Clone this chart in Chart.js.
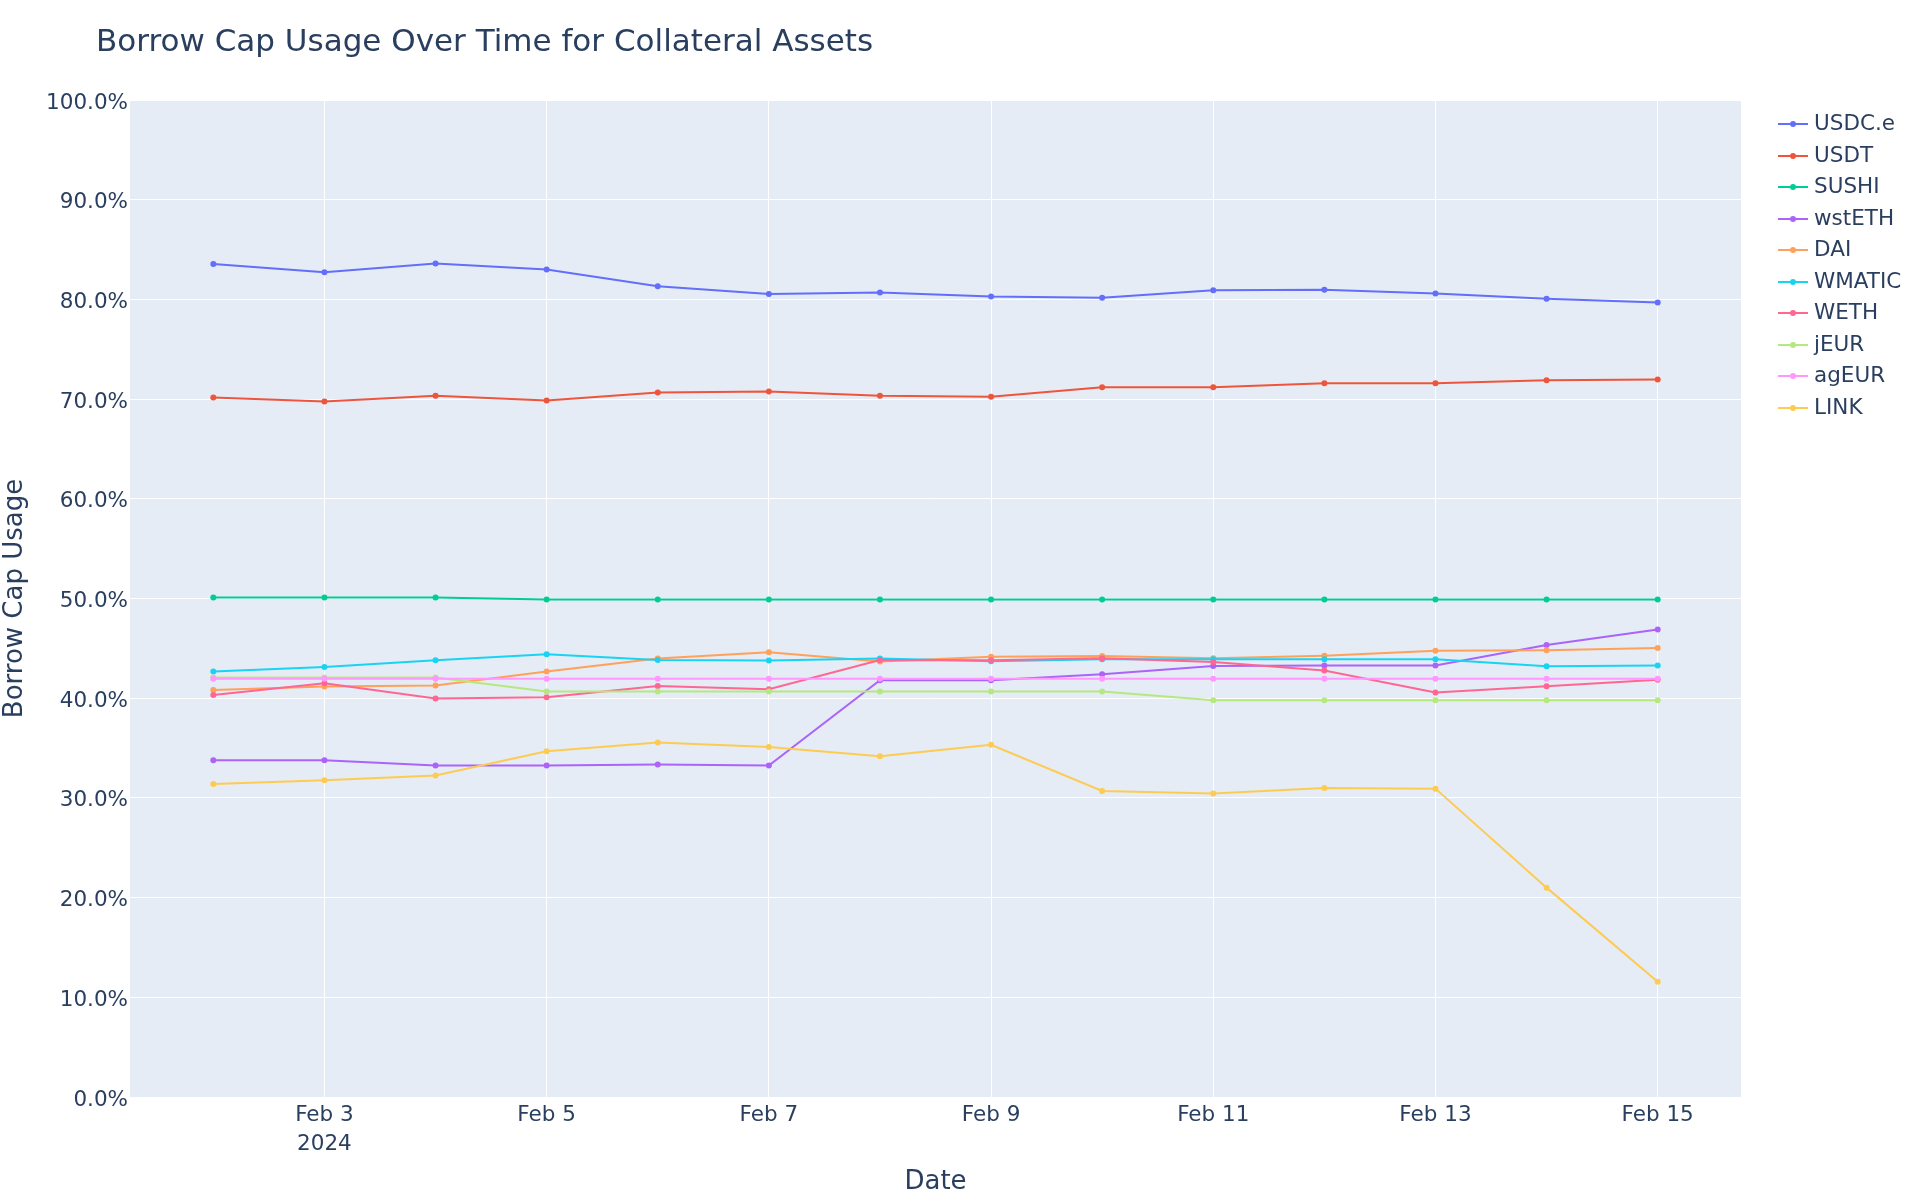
<!DOCTYPE html>
<html>
<head>
<meta charset="utf-8">
<script src="https://cdn.jsdelivr.net/npm/chart.js@4.4.1/dist/chart.umd.min.js"></script>
<style>
  body { margin: 0; background: #fff; font-family: "DejaVu Sans", sans-serif; }
  #wrap { position: relative; width: 1920px; height: 1200px; }
  #title { position: absolute; left: 96px; top: 25px; font-size: 31px; line-height: 30px; color: #2a3f5f; white-space: nowrap; }
  #legend { position: absolute; left: 1778px; top: 108px; }
  .item { position: relative; height: 31.5px; font-size: 21.5px; color: #2a3f5f; }
  .item .ln { position: absolute; left: 0; top: 15px; width: 30px; height: 2px; }
  .item .dot { position: absolute; left: 12px; top: 13px; width: 6px; height: 6px; border-radius: 50%; }
  .item .tx { position: absolute; left: 36px; top: 2px; line-height: 26px; white-space: nowrap; }
</style>
</head>
<body>
<div id="wrap">
  <canvas id="chart" width="1920" height="1200"></canvas>
  <div id="title">Borrow Cap Usage Over Time for Collateral Assets</div>
  <div id="legend"></div>
</div>

<script>
// dates of the snapshots
const dates = ['2024-02-02', '2024-02-03', '2024-02-04', '2024-02-05', '2024-02-06', '2024-02-07', '2024-02-08',
               '2024-02-09', '2024-02-10', '2024-02-11', '2024-02-12', '2024-02-13', '2024-02-14', '2024-02-15'];

// borrow cap usage in percent, per asset
const usdce  = [83.56, 82.73, 83.60, 83.00, 81.33, 80.53, 80.70, 80.28, 80.17, 80.93, 80.97, 80.60, 80.07, 79.70];
const usdt   = [70.17, 69.77, 70.33, 69.86, 70.66, 70.76, 70.33, 70.23, 71.20, 71.20, 71.60, 71.60, 71.90, 71.96];
const sushi  = [50.10, 50.10, 50.10, 49.90, 49.90, 49.90, 49.90, 49.90, 49.90, 49.90, 49.90, 49.90, 49.90, 49.90];
const wsteth = [33.78, 33.78, 33.24, 33.24, 33.34, 33.24, 41.80, 41.80, 42.40, 43.24, 43.27, 43.27, 45.34, 46.90];
const dai    = [40.83, 41.17, 41.27, 42.67, 43.97, 44.60, 43.67, 44.15, 44.24, 44.00, 44.27, 44.77, 44.80, 45.04];
const wmatic = [42.67, 43.14, 43.80, 44.40, 43.84, 43.77, 43.97, 43.70, 43.90, 43.90, 43.90, 43.90, 43.20, 43.27];
const weth   = [40.33, 41.50, 39.96, 40.10, 41.23, 40.90, 43.84, 43.80, 44.00, 43.64, 42.77, 40.57, 41.20, 41.84];
const jeur   = [42.07, 42.07, 42.07, 40.67, 40.67, 40.67, 40.67, 40.67, 40.67, 39.80, 39.80, 39.80, 39.80, 39.80];
const ageur  = [41.94, 41.94, 41.94, 41.94, 41.94, 41.94, 41.94, 41.94, 41.94, 41.94, 41.94, 41.94, 41.94, 41.94];
const link   = [31.40, 31.78, 32.24, 34.68, 35.55, 35.10, 34.17, 35.33, 30.70, 30.43, 31.00, 30.93, 21.00, 11.56];

const assetNames = ['USDC.e', 'USDT', 'SUSHI', 'wstETH', 'DAI', 'WMATIC', 'WETH', 'jEUR', 'agEUR', 'LINK'];
const assetValues = [usdce, usdt, sushi, wsteth, dai, wmatic, weth, jeur, ageur, link];
const colors = ['#636efa', '#EF553B', '#00cc96', '#ab63fa', '#FFA15A', '#19d3f3', '#FF6692', '#B6E880', '#FF97FF', '#FECB52'];

// x ticks (day of February) shown on the axis
const xTicks = [3, 5, 7, 9, 11, 13, 15];

const font = '"DejaVu Sans", sans-serif';
const textColor = '#2a3f5f';

const dayOf = d => Number(d.slice(8, 10));

// plot background like plotly
const plotBg = {
    id: 'plotBg',
    beforeDraw(chart) {
        const { ctx, chartArea: { left, top, width, height } } = chart;
        ctx.save();
        ctx.fillStyle = '#E5ECF6';
        ctx.fillRect(left, top, width, height);
        ctx.restore();
    }
};

const n = assetNames.length;
const datasets = assetNames.map((name, i) => ({
    label: name,
    data: assetValues[i].map((v, j) => ({ x: dayOf(dates[j]), y: v })),
    borderColor: colors[i],
    backgroundColor: colors[i],
    pointBackgroundColor: colors[i],
    pointBorderWidth: 0,
    pointRadius: 3,
    borderWidth: 2,
    tension: 0,
    order: n - 1 - i   // last trace on top, like plotly
}));

new Chart(document.getElementById('chart').getContext('2d'), {
    type: 'line',
    data: { datasets },
    options: {
        responsive: false,
        animation: false,
        events: [],
        layout: { padding: { top: 100, right: 179, left: 0, bottom: 0 } },
        plugins: {
            legend: { display: false },
            tooltip: { enabled: false },
            title: { display: false }
        },
        scales: {
            x: {
                type: 'linear',
                min: 1.25,
                max: 15.75,
                afterBuildTicks(scale) { scale.ticks = xTicks.map(v => ({ value: v })); },
                afterFit(scale) { scale.height = 103; },
                border: { display: false },
                grid: { color: '#ffffff', lineWidth: 1, drawTicks: false },
                ticks: {
                    padding: 4,
                    color: textColor,
                    font: { family: font, size: 21.5, lineHeight: 1.36 },
                    maxRotation: 0,
                    autoSkip: false,
                    callback: v => v === 3 ? ['Feb ' + v, '2024'] : 'Feb ' + v
                },
                title: {
                    display: true,
                    text: 'Date',
                    color: textColor,
                    font: { family: font, size: 26 },
                    padding: { top: 0, bottom: 2 }
                }
            },
            y: {
                min: 0,
                max: 100,
                afterFit(scale) { scale.width = 130; },
                border: { display: false },
                grid: { color: '#ffffff', lineWidth: 1, drawTicks: false },
                ticks: {
                    stepSize: 10,
                    padding: 2,
                    labelOffset: 3,
                    color: textColor,
                    font: { family: font, size: 21.5 },
                    callback: v => v.toFixed(1) + '%'
                },
                title: {
                    display: true,
                    text: 'Borrow Cap Usage',
                    color: textColor,
                    font: { family: font, size: 26 },
                    padding: 0
                }
            }
        }
    },
    plugins: [plotBg]
});

// legend in the plotly style
const legend = document.getElementById('legend');
assetNames.forEach((name, i) => {
    const row = document.createElement('div');
    row.className = 'item';
    row.innerHTML = `<span class="ln" style="background:${colors[i]}"></span>` +
                    `<span class="dot" style="background:${colors[i]}"></span>` +
                    `<span class="tx">${name}</span>`;
    legend.appendChild(row);
});
</script>
</body>
</html>
